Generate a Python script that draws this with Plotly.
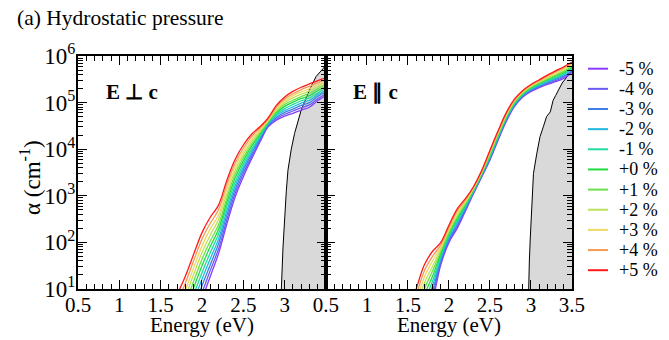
import plotly.graph_objects as go

# ---------------- data (log10 of alpha in cm^-1) ----------------
strain_labels = ["-5 %", "-4 %", "-3 %", "-2 %", "-1 %", "+0 %", "+1 %", "+2 %", "+3 %", "+4 %", "+5 %"]
colors = ["#8c3cff", "#6a5cf0", "#3f7fe6", "#22b8e0", "#20dca0", "#20dc40",
          "#6ce04a", "#bde25a", "#ecd865", "#f59a55", "#ff1a1a"]

# E perpendicular c
energy_perp = [1.6, 1.7, 1.8, 1.9, 2.0, 2.1, 2.2, 2.3, 2.4, 2.5, 2.6, 2.7, 2.8, 2.9, 3.0, 3.1, 3.2, 3.3, 3.4, 3.5]
perp_m5 = [-1.20, -0.70, -0.20, 0.30, 0.78, 1.27, 1.76, 2.39, 2.97, 3.41, 3.79, 4.15, 4.48, 4.62, 4.71, 4.77, 4.84, 4.90, 5.04, 5.15]
perp_m4 = [-1.03, -0.54, -0.05, 0.45, 0.92, 1.40, 1.86, 2.48, 3.05, 3.48, 3.84, 4.18, 4.50, 4.65, 4.75, 4.82, 4.89, 4.95, 5.08, 5.19]
perp_m3 = [-0.86, -0.38, 0.10, 0.59, 1.07, 1.52, 1.97, 2.58, 3.13, 3.55, 3.90, 4.22, 4.52, 4.68, 4.79, 4.86, 4.94, 5.00, 5.13, 5.23]
perp_m2 = [-0.70, -0.23, 0.24, 0.74, 1.21, 1.65, 2.07, 2.67, 3.21, 3.61, 3.95, 4.25, 4.54, 4.72, 4.83, 4.91, 4.99, 5.05, 5.17, 5.26]
perp_m1 = [-0.53, -0.07, 0.39, 0.88, 1.35, 1.78, 2.18, 2.77, 3.29, 3.68, 4.00, 4.28, 4.56, 4.75, 4.87, 4.96, 5.04, 5.10, 5.21, 5.30]
perp_p0 = [-0.36, 0.09, 0.54, 1.03, 1.50, 1.91, 2.28, 2.86, 3.38, 3.75, 4.06, 4.32, 4.58, 4.78, 4.92, 5.01, 5.09, 5.15, 5.26, 5.34]
perp_p1 = [-0.19, 0.25, 0.69, 1.17, 1.64, 2.03, 2.38, 2.95, 3.46, 3.82, 4.11, 4.35, 4.59, 4.81, 4.96, 5.05, 5.13, 5.20, 5.30, 5.38]
perp_p2 = [-0.02, 0.41, 0.84, 1.32, 1.78, 2.16, 2.49, 3.05, 3.54, 3.89, 4.16, 4.38, 4.61, 4.84, 5.00, 5.10, 5.18, 5.25, 5.34, 5.42]
perp_p3 = [0.14, 0.56, 0.98, 1.46, 1.92, 2.29, 2.59, 3.14, 3.62, 3.95, 4.21, 4.41, 4.63, 4.88, 5.04, 5.15, 5.23, 5.30, 5.38, 5.45]
perp_p4 = [0.31, 0.72, 1.13, 1.61, 2.07, 2.41, 2.70, 3.24, 3.70, 4.02, 4.27, 4.45, 4.65, 4.91, 5.08, 5.19, 5.28, 5.35, 5.43, 5.49]
perp_p5 = [0.48, 0.88, 1.28, 1.75, 2.21, 2.54, 2.80, 3.33, 3.78, 4.09, 4.32, 4.48, 4.67, 4.94, 5.12, 5.24, 5.33, 5.40, 5.47, 5.53]

# E parallel c
energy_par = [1.5, 1.6, 1.7, 1.8, 1.9, 2.0, 2.1, 2.2, 2.3, 2.4, 2.5, 2.6, 2.7, 2.8, 2.9, 3.0, 3.1, 3.2, 3.3, 3.4, 3.5]
par_m5 = [-1.00, -0.40, 0.22, 0.75, 1.52, 2.00, 2.30, 2.67, 3.05, 3.41, 3.77, 4.20, 4.60, 4.92, 5.12, 5.24, 5.32, 5.39, 5.45, 5.52, 5.65]
par_m4 = [-0.86, -0.26, 0.35, 0.86, 1.57, 2.04, 2.34, 2.70, 3.07, 3.42, 3.79, 4.22, 4.62, 4.94, 5.13, 5.26, 5.34, 5.41, 5.47, 5.55, 5.67]
par_m3 = [-0.71, -0.12, 0.48, 0.96, 1.62, 2.07, 2.38, 2.72, 3.08, 3.44, 3.81, 4.24, 4.64, 4.95, 5.15, 5.27, 5.35, 5.43, 5.50, 5.57, 5.69]
par_m2 = [-0.57, 0.02, 0.61, 1.07, 1.66, 2.11, 2.43, 2.75, 3.10, 3.45, 3.83, 4.26, 4.66, 4.97, 5.16, 5.29, 5.37, 5.45, 5.52, 5.60, 5.72]
par_m1 = [-0.42, 0.16, 0.74, 1.17, 1.71, 2.15, 2.47, 2.78, 3.11, 3.47, 3.85, 4.28, 4.68, 4.98, 5.18, 5.30, 5.39, 5.47, 5.54, 5.62, 5.74]
par_p0 = [-0.28, 0.30, 0.87, 1.28, 1.76, 2.19, 2.51, 2.81, 3.13, 3.48, 3.88, 4.30, 4.70, 5.00, 5.19, 5.32, 5.41, 5.49, 5.57, 5.65, 5.76]
par_p1 = [-0.13, 0.44, 1.00, 1.39, 1.81, 2.22, 2.55, 2.83, 3.14, 3.49, 3.90, 4.32, 4.71, 5.02, 5.20, 5.33, 5.42, 5.51, 5.59, 5.67, 5.78]
par_p2 = [0.02, 0.58, 1.13, 1.49, 1.86, 2.26, 2.59, 2.86, 3.16, 3.51, 3.92, 4.34, 4.73, 5.03, 5.22, 5.35, 5.44, 5.53, 5.61, 5.70, 5.80]
par_p3 = [0.16, 0.72, 1.26, 1.60, 1.90, 2.30, 2.64, 2.89, 3.17, 3.52, 3.94, 4.36, 4.75, 5.05, 5.23, 5.36, 5.46, 5.55, 5.63, 5.72, 5.83]
par_p4 = [0.31, 0.86, 1.39, 1.70, 1.95, 2.33, 2.68, 2.91, 3.19, 3.54, 3.96, 4.38, 4.77, 5.06, 5.25, 5.38, 5.47, 5.57, 5.66, 5.75, 5.85]
par_p5 = [0.45, 1.00, 1.52, 1.81, 2.00, 2.37, 2.72, 2.94, 3.20, 3.55, 3.98, 4.40, 4.79, 5.08, 5.26, 5.39, 5.49, 5.59, 5.68, 5.77, 5.87]

# reference (black, shaded) curves
ref_perp_e = [2.955, 2.96, 2.98, 3.00, 3.02, 3.04, 3.08, 3.12, 3.20, 3.30, 3.38, 3.47, 3.50]
ref_perp_v = [0.5, 1.0, 1.9, 2.6, 3.1, 3.55, 4.0, 4.34, 4.84, 5.27, 5.56, 5.74, 5.80]
ref_par_e = [2.965, 2.97, 2.98, 2.99, 3.01, 3.03, 3.07, 3.11, 3.15, 3.19, 3.235, 3.27, 3.30, 3.38, 3.46, 3.50]
ref_par_v = [0.5, 1.0, 1.6, 2.05, 2.8, 3.48, 3.9, 4.27, 4.48, 4.70, 4.80, 5.05, 5.15, 5.42, 5.60, 5.68]

x_ticks_left = [0.5, 1, 1.5, 2, 2.5, 3, 3.5]
x_text_left = ["0.5", "1", "1.5", "2", "2.5", "3", ""]
x_ticks_right = [0.5, 1, 1.5, 2, 2.5, 3, 3.5]
x_text_right = ["0.5", "1", "1.5", "2", "2.5", "3", "3.5"]
y_ticks = [1e1, 1e2, 1e3, 1e4, 1e5, 1e6]
y_text = ["10<sup>1</sup>", "10<sup>2</sup>", "10<sup>3</sup>", "10<sup>4</sup>", "10<sup>5</sup>", "10<sup>6</sup>"]

perp_series = [perp_m5, perp_m4, perp_m3, perp_m2, perp_m1, perp_p0, perp_p1, perp_p2, perp_p3, perp_p4, perp_p5]
par_series = [par_m5, par_m4, par_m3, par_m2, par_m1, par_p0, par_p1, par_p2, par_p3, par_p4, par_p5]

FONT = "Liberation Serif"

# plot-area geometry (pixels) used to place legend/labels in paper coordinates
L, R, T, B = 78, 572, 56, 289


def px(x):
    return (x - L) / (R - L)


def py(y):
    return (B - y) / (B - T)


def alpha(vals):
    return [10 ** v for v in vals]


fig = go.Figure()

# shaded reference curves
fig.add_trace(go.Scatter(x=ref_perp_e, y=alpha(ref_perp_v), mode="lines",
                         line=dict(color="black", width=1), fill="tozeroy",
                         fillcolor="#d9d9d9", showlegend=False, xaxis="x", yaxis="y"))
fig.add_trace(go.Scatter(x=ref_par_e, y=alpha(ref_par_v), mode="lines",
                         line=dict(color="black", width=1), fill="tozeroy",
                         fillcolor="#d9d9d9", showlegend=False, xaxis="x2", yaxis="y2"))

for lab, col, s1, s2 in zip(strain_labels, colors, perp_series, par_series):
    fig.add_trace(go.Scatter(x=energy_perp, y=alpha(s1), mode="lines",
                             line=dict(color=col, width=1.3, shape="spline"),
                             name=lab, showlegend=False, xaxis="x", yaxis="y"))
    fig.add_trace(go.Scatter(x=energy_par, y=alpha(s2), mode="lines",
                             line=dict(color=col, width=1.3, shape="spline"),
                             name=lab, showlegend=False, xaxis="x2", yaxis="y2"))

minor_y = [m * 10 ** d for d in range(1, 6) for m in range(2, 10)]

common_x = dict(range=[0.5, 3.5], tickmode="array", ticks="inside", ticklen=9,
                tickwidth=1.3, tickcolor="black", showline=True, linewidth=2,
                linecolor="black", mirror="allticks", showgrid=False, zeroline=False,
                ticklabelstandoff=-4,
                tickfont=dict(family=FONT, size=21, color="black"),
                minor=dict(tickmode="linear", tick0=0.5, dtick=0.1, ticks="inside",
                           ticklen=5, tickwidth=1, tickcolor="black", showgrid=False))
common_y = dict(type="log", range=[1, 6], tickmode="array", tickvals=y_ticks,
                ticks="inside", ticklen=9, tickwidth=1.3, tickcolor="black",
                showline=True, linewidth=2, linecolor="black", mirror="allticks",
                showgrid=False, zeroline=False,
                tickfont=dict(family=FONT, size=23, color="black"),
                minor=dict(tickmode="array", tickvals=minor_y, ticks="inside",
                           ticklen=5, tickwidth=1, tickcolor="black", showgrid=False))

# manual legend
legend_shapes = []
legend_notes = []
for i, (lab, col) in enumerate(zip(strain_labels, colors)):
    yc = 68.7 + 20.15 * i
    legend_shapes.append(dict(type="line", xref="paper", yref="paper",
                              x0=px(588), x1=px(608), y0=py(yc), y1=py(yc),
                              line=dict(color=col, width=2)))
    legend_notes.append(dict(text=lab, xref="paper", yref="paper", x=px(617), y=py(yc),
                             xanchor="left", yanchor="middle", showarrow=False,
                             font=dict(family=FONT, size=18, color="black")))

fig.update_layout(
    width=669, height=340,
    margin=dict(l=L, r=669 - R, t=T, b=340 - B),
    paper_bgcolor="white", plot_bgcolor="white",
    font=dict(family=FONT, color="black"),
    xaxis=dict(domain=[0, 0.502], anchor="y", tickvals=x_ticks_left, ticktext=x_text_left, **common_x),
    xaxis2=dict(domain=[0.502, 1], anchor="y2", tickvals=x_ticks_right, ticktext=x_text_right, **common_x),
    yaxis=dict(anchor="x", ticktext=y_text, ticklabelstandoff=-4, **common_y),
    yaxis2=dict(anchor="x2", showticklabels=False, **common_y),
    showlegend=False,
    shapes=legend_shapes,
    annotations=legend_notes + [
        dict(text="(a) Hydrostatic pressure", xref="paper", yref="paper",
             x=px(15), y=py(18), xanchor="left", yanchor="middle", showarrow=False,
             font=dict(family=FONT, size=21.5, color="black")),
        dict(text="<b>E \u22a5 c</b>", xref="paper", yref="paper",
             x=px(104), y=py(92), xanchor="left", yanchor="middle", showarrow=False,
             font=dict(family=FONT, size=21, color="black")),
        dict(text="<b>E \u2225 c</b>", xref="paper", yref="paper",
             x=px(351), y=py(92), xanchor="left", yanchor="middle", showarrow=False,
             font=dict(family=FONT, size=21, color="black")),
        dict(text="Energy (eV)", xref="paper", yref="paper",
             x=px(202), y=py(325), xanchor="center", yanchor="middle", showarrow=False,
             font=dict(family=FONT, size=21, color="black")),
        dict(text="Energy (eV)", xref="paper", yref="paper",
             x=px(449), y=py(325), xanchor="center", yanchor="middle", showarrow=False,
             font=dict(family=FONT, size=21, color="black")),
        dict(text="\u03b1 (cm<sup>-1</sup>)", xref="paper", yref="paper",
             x=px(30), y=py(178), xanchor="center", yanchor="middle", showarrow=False,
             textangle=-90, font=dict(family=FONT, size=23, color="black")),
    ],
)

fig.write_html("out.html")
